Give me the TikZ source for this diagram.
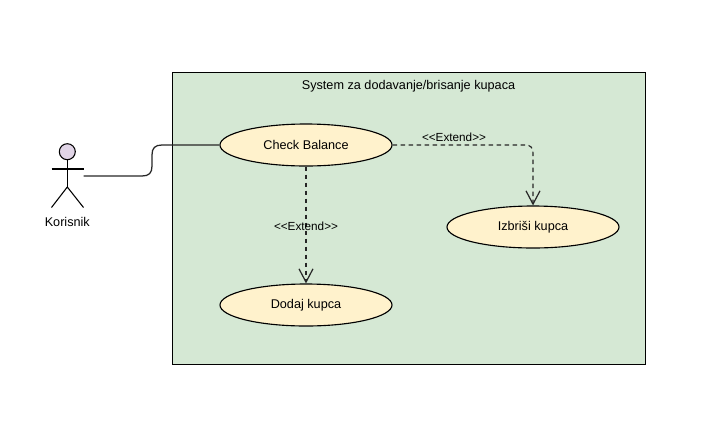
\documentclass[tikz,border=0pt]{standalone}
\usepackage{fontspec}
\setmainfont{Liberation Sans}
\usepackage{xcolor}
\usetikzlibrary{positioning,arrows.meta,shapes.geometric}
\definecolor{sysgreen}{HTML}{D5E8D4}
\definecolor{casecream}{HTML}{FFF2CC}
\definecolor{actorlilac}{HTML}{E1D5E7}

\begin{document}
\begin{tikzpicture}[
          x=0.75pt, y=-0.75pt,
          lbl/.style={font=\fontsize{9.5}{11}\selectfont, inner sep=0pt},
          extlbl/.style={font=\fontsize{8.8}{10}\selectfont, inner sep=0pt},
          usecase/.style={draw, line width=0.85pt, fill=casecream, shape=ellipse, minimum width=129pt, minimum height=31.5pt, inner sep=0pt, font=\fontsize{9.5}{11}\selectfont},
          limb/.style={line width=0.8pt, black},
          assoc/.style={line width=0.95pt, black!85},
          extend/.style={line width=0.85pt, black!85, dash pattern=on 3.4pt off 2.6pt, -{Straight Barb[length=10pt, width=10.5pt, line width=0.9pt]}}
      ]
        \useasboundingbox (0,0) rectangle (717,440);
        % system boundary
        \node[draw, line width=0.75pt, fill=sysgreen, minimum width=354.75pt, minimum height=219pt, inner sep=0pt] (system) at (408.5,218.3) {};
        \node[lbl] (systemtitle) at (408.5,86) {System za dodavanje/brisanje kupaca};
        % use cases
        \node[usecase] (balance) at (306,145) {Check Balance};
        \node[usecase] (izbrisi) at (533,227) {Izbriši kupca};
        \node[usecase] (dodaj) at (306,305) {Dodaj kupca};
        % actor
        \node[draw, line width=0.8pt, fill=actorlilac, circle, minimum size=12pt, inner sep=0pt] (head) at (67.3,151.7) {};
        \coordinate (hip) at (67.3,187);
        \coordinate (armL) at (51.5,169);
        \coordinate (armR) at (83.5,169);
        \coordinate (footL) at (51.5,207.5);
        \coordinate (footR) at (83.5,207.5);
        \coordinate (hand) at (83.5,176);
        \draw[limb] (head) -- (hip);
        \draw[limb] (armL) -- (armR);
        \draw[limb] (footL) -- (hip) -- (footR);
        \node[lbl] (korisnik) at (67.3,221.5) {Korisnik};
        % connectors
        \draw[assoc] (hand) -- (142,176) .. controls (149,176) and (152,173) .. (152,166) -- (152,155) .. controls (152,148) and (155,145) .. (162,145) -- (balance.west);
        \draw[extend] (balance.east) -- (525,145) .. controls (530.5,145) and (533,147.5) .. (533,153) -- (izbrisi.north);
        \draw[extend] (balance.south) -- (dodaj.north);
        \node[extlbl] (extA) at (454,137) {<{}<Extend>{}>};
        \node[extlbl] (extB) at (306,226) {<{}<Extend>{}>};
      \end{tikzpicture}
\end{document}
